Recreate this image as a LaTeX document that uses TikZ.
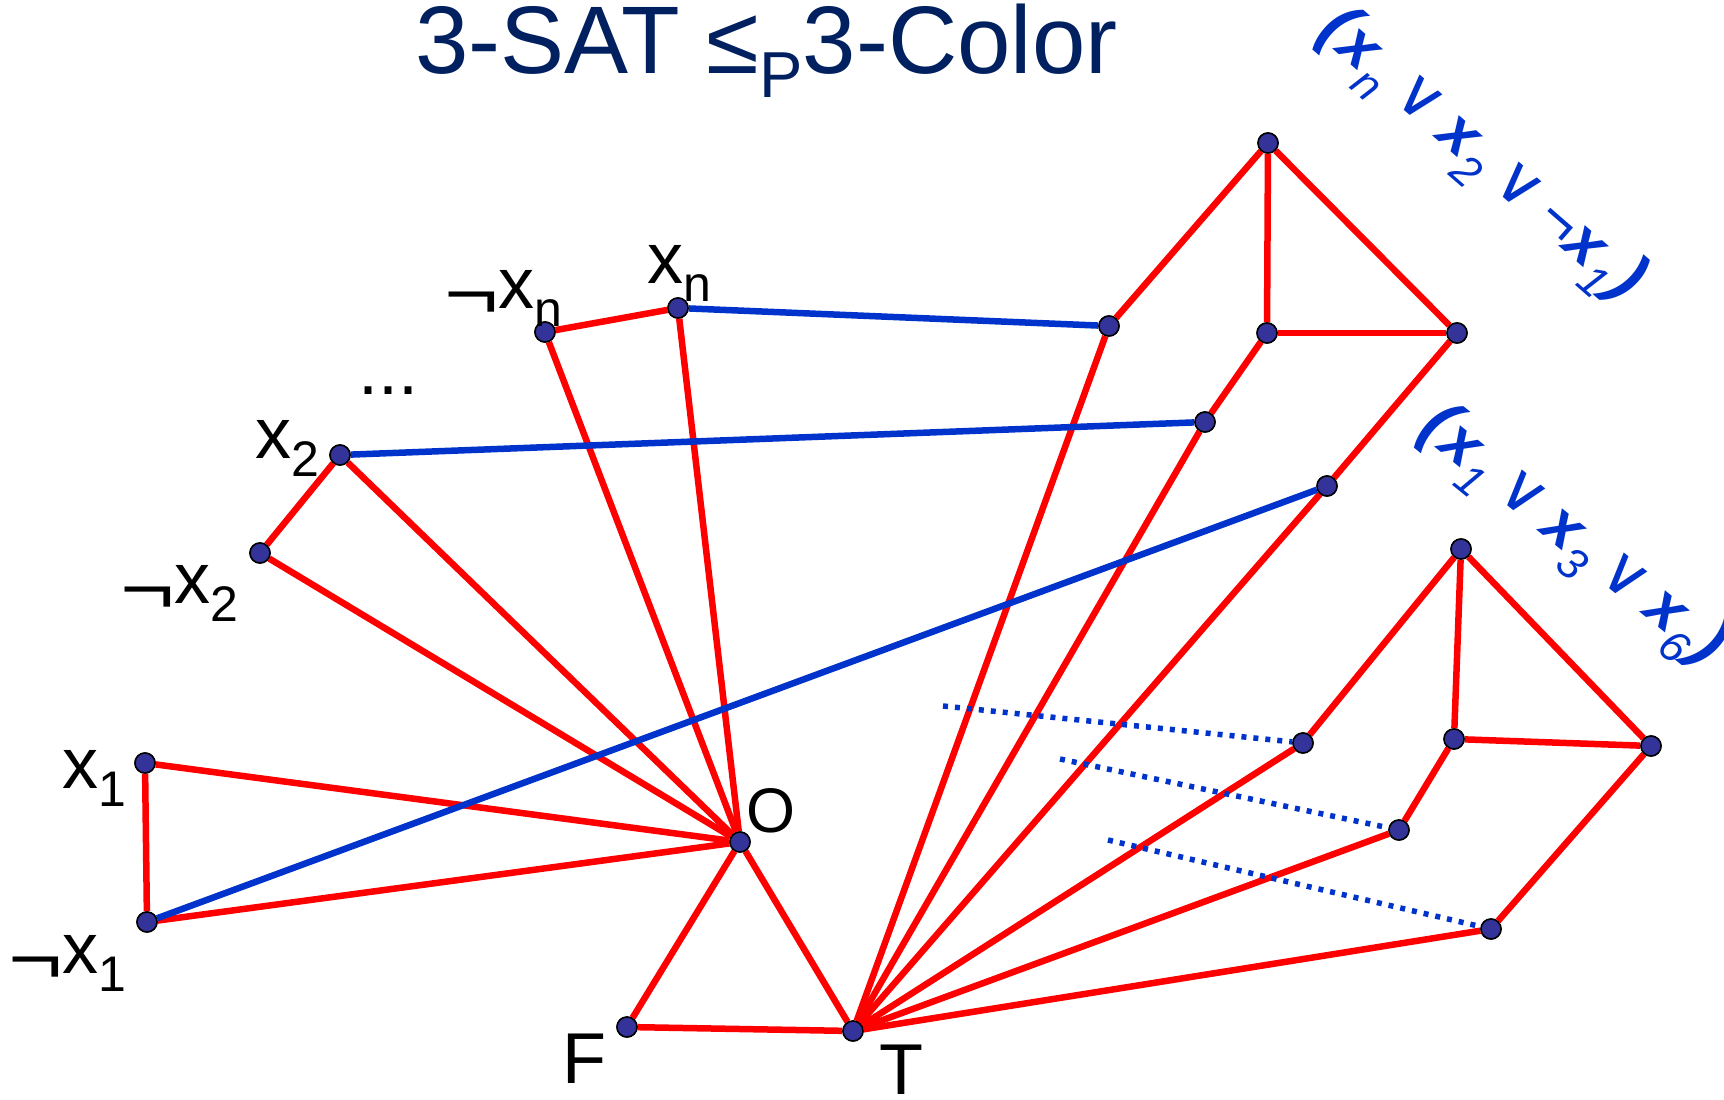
\documentclass[tikz,border=0pt]{standalone}
\usepackage{fontspec}
\setmainfont{Liberation Sans}
\newfontfamily\dejavu{DejaVu Sans}
\usepackage{graphicx}
\definecolor{ered}{HTML}{FF0000}
\definecolor{eblue}{HTML}{0033CC}
\definecolor{vfill}{HTML}{333399}
\definecolor{navy}{HTML}{002060}
\newcommand{\lsub}[1]{\raisebox{-18pt}{\fontsize{50}{50}\selectfont #1}}
\newcommand{\negsign}{\raisebox{-10pt}{\scalebox{1.3}[1]{¬}}}
\newcommand{\csub}[1]{\raisebox{-19pt}{\fontsize{44}{44}\selectfont\itshape #1}}
\newcommand{\cx}{{\fontsize{62}{62}\selectfont\bfseries\itshape x}}
\newcommand{\cor}{\hspace{13pt}{\dejavu\fontsize{64}{64}\selectfont ∨}\hspace{13pt}}
\newcommand{\cneg}{{\fontsize{62}{62}\selectfont ¬}}
\newcommand{\cpl}{{\bfseries\itshape (}\hspace{2pt}}
\newcommand{\cpr}{\hspace{2pt}{\bfseries\itshape )}}
\begin{document}
\begin{tikzpicture}[x=1pt,y=-1pt,
  vert/.style={circle,draw=black,line width=1.5pt,fill=vfill,minimum size=20pt,inner sep=0pt},
  redl/.style={draw=ered,line width=6.5pt},
  bluel/.style={draw=eblue,line width=6.5pt},
  dotl/.style={draw=eblue,line width=5.5pt,dash pattern=on 5pt off 7pt},
  lab/.style={anchor=base west,inner sep=0pt,font=\fontsize{72}{72}\selectfont},
  clause/.style={text=eblue,inner sep=0pt,font=\fontsize{68}{68}\selectfont}
]
\fill[white] (0,0) rectangle (1724,1100);
\useasboundingbox (0,0) rectangle (1724,1100);

% title
\node[anchor=base west,inner sep=0pt,text=navy,font=\fontsize{96}{96}\selectfont] (title) at (415,73)
  {3-SAT ≤\raisebox{-24pt}{\fontsize{65}{65}\selectfont P}3-Color};

% vertices
\node[vert] (nxn) at (545,332) {};
\node[vert] (xn)  at (678,308) {};
\node[vert] (x2)  at (340,455) {};
\node[vert] (nx2) at (260,553) {};
\node[vert] (x1)  at (145,763) {};
\node[vert] (nx1) at (147,922) {};
\node[vert] (O)   at (740,842) {};
\node[vert] (F)   at (627,1027) {};
\node[vert] (T)   at (853,1031) {};
% clause 1 gadget
\node[vert] (c1a) at (1109,326) {};
\node[vert] (c1b) at (1205,422) {};
\node[vert] (c1c) at (1327,486) {};
\node[vert] (c1t) at (1268,143) {};
\node[vert] (c1m) at (1267,333) {};
\node[vert] (c1r) at (1457,333) {};
% clause 2 gadget
\node[vert] (c2a) at (1303,743) {};
\node[vert] (c2b) at (1399,830) {};
\node[vert] (c2c) at (1491,929) {};
\node[vert] (c2t) at (1461,549) {};
\node[vert] (c2m) at (1454,739) {};
\node[vert] (c2r) at (1651,746) {};

\coordinate (d1) at (943,706);
\coordinate (d2) at (1060,759);
\coordinate (d3) at (1108,840);

% red edges
\draw[redl] (nxn) -- (xn);
\draw[redl] (nxn) -- (O);
\draw[redl] (xn) -- (O);
\draw[redl] (x2) -- (nx2);
\draw[redl] (x2) -- (O);
\draw[redl] (nx2) -- (O);
\draw[redl] (x1) -- (nx1);
\draw[redl] (x1) -- (O);
\draw[redl] (nx1) -- (O);
\draw[redl] (O) -- (F);
\draw[redl] (O) -- (T);
\draw[redl] (F) -- (T);
\draw[redl] (T) -- (c1a);
\draw[redl] (T) -- (c1b);
\draw[redl] (T) -- (c1c);
\draw[redl] (c1a) -- (c1t);
\draw[redl] (c1t) -- (c1m);
\draw[redl] (c1t) -- (c1r);
\draw[redl] (c1m) -- (c1r);
\draw[redl] (c1m) -- (c1b);
\draw[redl] (c1r) -- (c1c);
\draw[redl] (T) -- (c2a);
\draw[redl] (T) -- (c2b);
\draw[redl] (T) -- (c2c);
\draw[redl] (c2a) -- (c2t);
\draw[redl] (c2t) -- (c2m);
\draw[redl] (c2t) -- (c2r);
\draw[redl] (c2m) -- (c2r);
\draw[redl] (c2m) -- (c2b);
\draw[redl] (c2r) -- (c2c);
% blue edges
\draw[bluel] (xn) -- (c1a);
\draw[bluel] (x2) -- (c1b);
\draw[bluel] (nx1) -- (c1c);
\draw[dotl] (d1) -- (c2a);
\draw[dotl] (d2) -- (c2b);
\draw[dotl] (d3) -- (c2c);

% redraw vertices on top
\foreach \v in {nxn,xn,x2,nx2,x1,nx1,O,F,T,c1a,c1b,c1c,c1t,c1m,c1r,c2a,c2b,c2c,c2t,c2m,c2r}
  \fill[vfill,draw=black,line width=1.5pt] (\v.center) circle (10pt);

% labels
\node[lab] (lx1)  at (62,788)  {x\lsub{1}};
\node[lab] (lnx1) at (8,973)   {\negsign x\lsub{1}};
\node[lab] (lx2)  at (255,458) {x\lsub{2}};
\node[lab] (lnx2) at (120,603) {\negsign x\lsub{2}};
\node[lab] (lnxn) at (444,308) {\negsign x\lsub{n}};
\node[lab] (lxn)  at (647,283) {x\lsub{n}};
\node[lab] (ldots) at (358,394) {...};
\node[lab,font=\fontsize{63}{63}\selectfont] (lO) at (746,832) {O};
\node[lab] (lF) at (562,1083) {F};
\node[lab] (lT) at (879,1094) {T};

% clause labels
\node[clause,rotate=-41] (cl1) at (1480,157)
  {\cpl\cx\csub{n}\cor\cx\csub{2}\cor\cneg\cx\csub{1}\cpr};
\node[clause,rotate=-39] (cl2) at (1571,538)
  {\cpl\cx\csub{1}\cor\cx\csub{3}\cor\cx\csub{6}\cpr};
\end{tikzpicture}
\end{document}
